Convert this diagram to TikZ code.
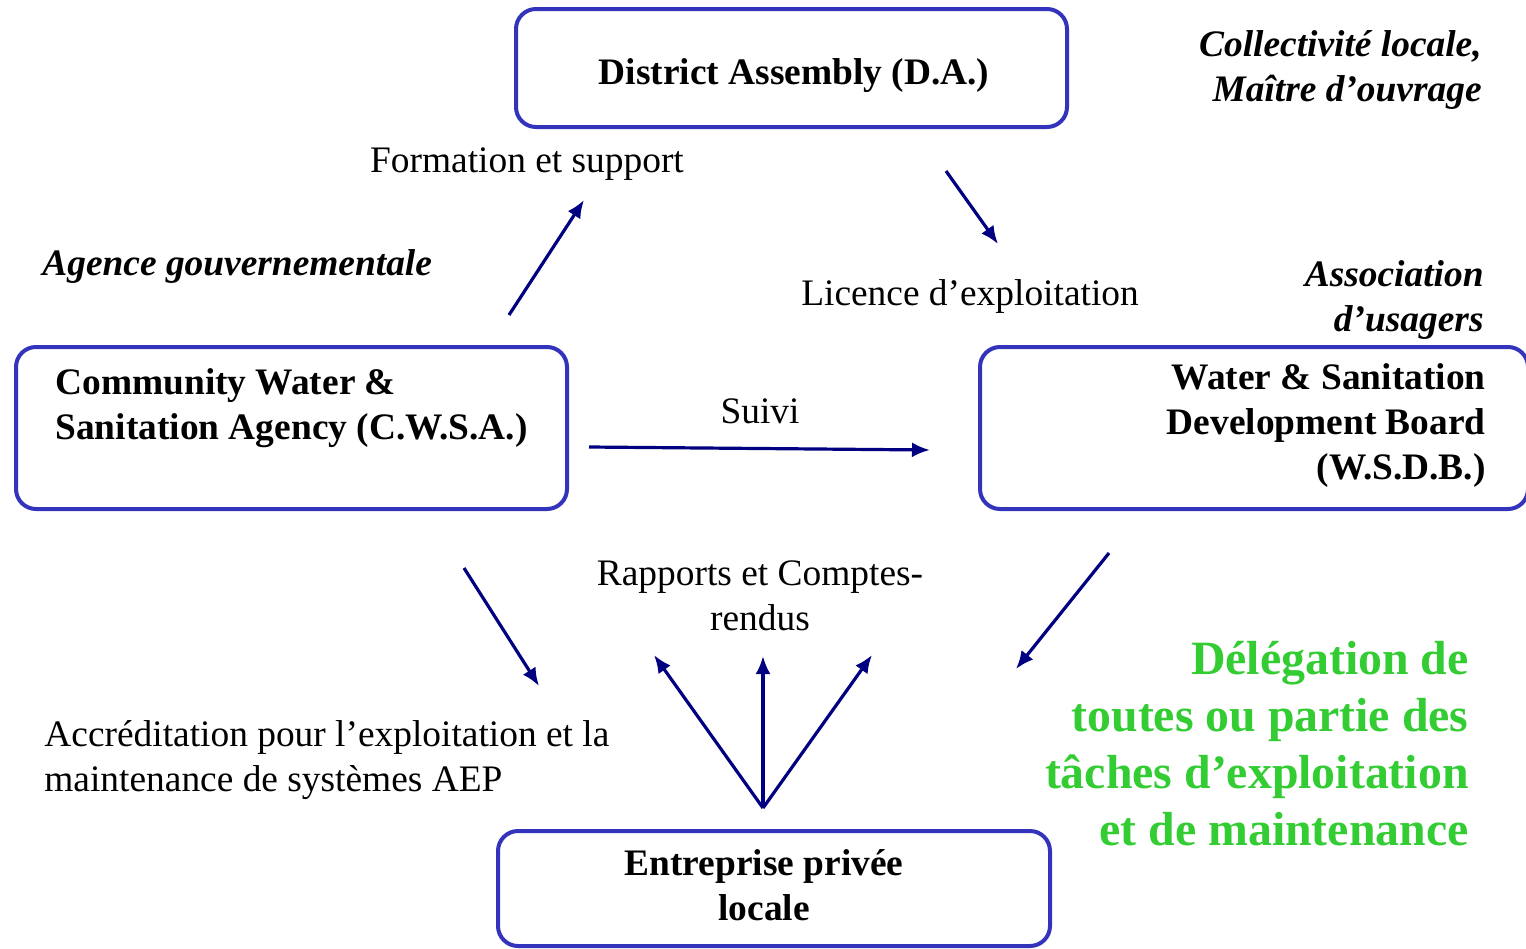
\documentclass[tikz,border=0pt]{standalone}
\usepackage{fontspec}
\setmainfont{Liberation Serif}
\usepackage{xcolor}
\usetikzlibrary{arrows.meta, positioning}

\definecolor{boxblue}{RGB}{51,51,187}
\definecolor{arrnavy}{RGB}{0,0,128}
\definecolor{delegreen}{RGB}{51,204,51}

\begin{document}
\begin{tikzpicture}[
        x=0.5pt, y=-0.5pt,
        actor/.style={rectangle, draw=boxblue, line width=2pt, rounded corners=10pt, inner sep=0pt},
        boxtext/.style={font=\fontsize{18.7}{22.5}\selectfont\bfseries, inner sep=0pt},
        flowtext/.style={font=\fontsize{18.7}{22.5}\selectfont, inner sep=0pt},
        roletext/.style={font=\fontsize{18.7}{22.5}\selectfont\bfseries\itshape, inner sep=0pt},
        greentext/.style={font=\fontsize{23.9}{28.5}\selectfont\bfseries, text=delegreen, inner sep=0pt, align=right},
        flow/.style={-{Latex[length=9pt, width=7.5pt]}, draw=arrnavy, line width=1.6pt}
    ]
    \useasboundingbox (0,0) rectangle (1526,948);

    % Boxes
    \node[actor, minimum width=275.5pt, minimum height=59pt] (da) at (791.5,68) {};
    \node[actor, minimum width=275.5pt, minimum height=81pt] (cwsa) at (291.5,428) {};
    \node[actor, minimum width=274pt, minimum height=81pt] (wsdb) at (1254,428) {};
    \node[actor, minimum width=276pt, minimum height=57.5pt] (epl) at (774,888.5) {};

    % Box texts
    \node[boxtext] (datext) at (794,76) {District Assembly (D.A.)};
    \node[boxtext, align=left, anchor=west] (cwsatext) at (55,408) {Community Water \&\\Sanitation Agency (C.W.S.A.)};
    \node[boxtext, align=right, anchor=east] (wsdbtext) at (1486,425) {Water \& Sanitation\\Development Board\\(W.S.D.B.)};
    \node[boxtext, align=center] (epltext) at (764,885.5) {Entreprise privée\\locale};

    % Roles
    \node[roletext, align=right, anchor=east] (roleda) at (1482,69.5) {Collectivité locale,\\Maître d’ouvrage};
    \node[roletext, anchor=west] (rolecwsa) at (42,267) {Agence gouvernementale};
    \node[roletext, align=right, anchor=east] (rolewsdb) at (1484,299.5) {Association\\d’usagers};

    % Flow labels
    \node[flowtext] (lformation) at (527,164) {Formation et support};
    \node[flowtext] (llicence) at (970,297) {Licence d’exploitation};
    \node[flowtext] (lsuivi) at (760,411) {Suivi};
    \node[flowtext, align=center] (lrapports) at (760,595.5) {Rapports et Comptes-\\rendus};
    \node[flowtext, align=left, anchor=west] (laccred) at (44,760) {Accréditation pour l’exploitation et la\\maintenance de systèmes AEP};
    \node[greentext, anchor=east] (ldelegation) at (1469,744) {Délégation de\\toutes ou partie des\\tâches d’exploitation\\et de maintenance};

    % Arrow ends
    \coordinate (f1) at (509,315);
    \coordinate (f2) at (584,200);
    \coordinate (l1) at (946,171);
    \coordinate (l2) at (998,244);
    \coordinate (s1) at (589,447);
    \coordinate (s2) at (930,450);
    \coordinate (a1) at (464,568);
    \coordinate (a2) at (539,686);
    \coordinate (d1) at (1109,553);
    \coordinate (d2) at (1016,669);
    \coordinate (r0) at (763,808);
    \coordinate (rl) at (654,655);
    \coordinate (rm) at (763,656);
    \coordinate (rr) at (872,655);

    % Arrows
    \draw[flow] (f1) -- (f2);
    \draw[flow] (l1) -- (l2);
    \draw[flow] (s1) -- (s2);
    \draw[flow] (a1) -- (a2);
    \draw[flow] (d1) -- (d2);
    \draw[flow] (r0) -- (rl);
    \draw[flow] (r0) -- (rm);
    \draw[flow] (r0) -- (rr);
\end{tikzpicture}
\end{document}
